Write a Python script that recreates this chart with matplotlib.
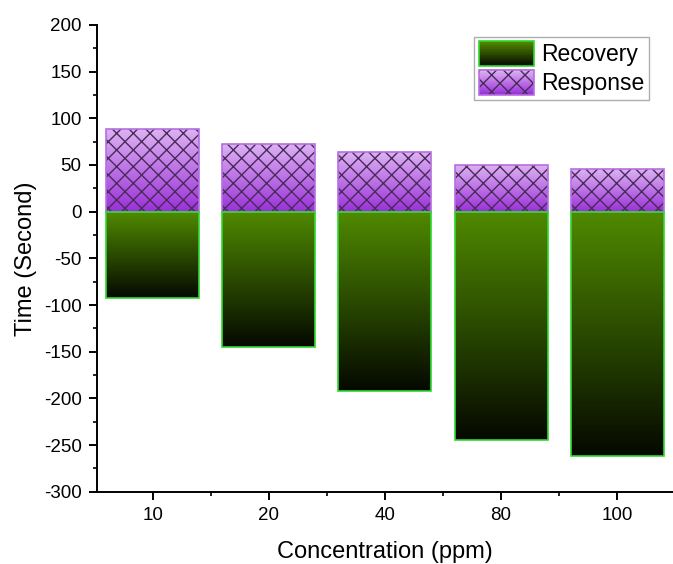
import numpy as np
import matplotlib.pyplot as plt
from matplotlib.colors import LinearSegmentedColormap
from matplotlib.patches import Rectangle, Patch
from matplotlib.legend_handler import HandlerBase
from matplotlib.ticker import MultipleLocator, AutoMinorLocator

plt.rcParams['font.family'] = ['Liberation Sans', 'DejaVu Sans']
plt.rcParams['axes.unicode_minus'] = False
plt.rcParams['hatch.linewidth'] = 1.0

# data
concentrations = ['10', '20', '40', '80', '100']
response = [88, 72, 64, 50, 46]
recovery = [-92, -145, -192, -245, -262]

resp_cmap = LinearSegmentedColormap.from_list('resp', ['#9a30d8', '#dcb2f2'])
rec_cmap = LinearSegmentedColormap.from_list('rec', ['#050800', '#2a4a00', '#508a00'])
resp_edge = '#b56ee2'
rec_edge = '#2fd82f'
hatch_col = '#4a2a5a'

fig = plt.figure(figsize=(6.73, 5.64), dpi=100)
ax = fig.add_axes([0.144, 0.128, 0.856, 0.828])

x = np.arange(len(concentrations))
w = 0.8
grad = np.linspace(0, 1, 256).reshape(-1, 1)

for xi, r, c in zip(x, response, recovery):
    # response bar: gradient + crosshatch + outline
    ax.imshow(grad, extent=[xi - w/2, xi + w/2, 0, r], origin='lower',
              aspect='auto', cmap=resp_cmap, zorder=2)
    ax.bar(xi, r, w, facecolor='none', edgecolor=hatch_col, linewidth=0,
           hatch='xx', zorder=3)
    ax.bar(xi, r, w, facecolor='none', edgecolor=resp_edge, linewidth=1.2, zorder=4)
    # recovery bar: gradient (green at top, black at bottom)
    ax.imshow(grad, extent=[xi - w/2, xi + w/2, c, 0], origin='lower',
              aspect='auto', cmap=rec_cmap, zorder=2)
    ax.bar(xi, c, w, facecolor='none', edgecolor=rec_edge, linewidth=1.2, zorder=4)

ax.set_xlim(-0.48, 4.48)
ax.set_ylim(-300, 200)
ax.set_xticks(x)
ax.set_xticklabels(concentrations)
ax.xaxis.set_minor_locator(MultipleLocator(0.5))
ax.yaxis.set_major_locator(MultipleLocator(50))
ax.yaxis.set_minor_locator(AutoMinorLocator(2))

for s in ['top', 'right']:
    ax.spines[s].set_visible(False)
for s in ['left', 'bottom']:
    ax.spines[s].set_linewidth(1.4)
ax.tick_params(which='major', direction='out', length=6, width=1.4, labelsize=13.5, pad=5)
ax.tick_params(which='minor', direction='out', length=3, width=1.2)
ax.tick_params(axis='x', which='minor', labelbottom=False)

ax.set_xlabel('Concentration (ppm)', fontsize=17, labelpad=12)
ax.set_ylabel('Time (Second)', fontsize=17, labelpad=5)


class GradientHandler(HandlerBase):
    def __init__(self, cmap, edge, hatch=None):
        super().__init__()
        self.cmap, self.edge, self.hatch = cmap, edge, hatch

    def create_artists(self, legend, orig_handle, xdescent, ydescent,
                       width, height, fontsize, trans):
        x0, y0 = -xdescent, -ydescent
        n = 30
        arts = []
        for i in range(n):
            arts.append(Rectangle((x0, y0 + height * i / n), width, height / n + 0.3,
                                  facecolor=self.cmap(i / (n - 1)), edgecolor='none',
                                  transform=trans))
        if self.hatch:
            arts.append(Rectangle((x0, y0), width, height, facecolor='none',
                                  edgecolor=hatch_col, linewidth=0, hatch=self.hatch,
                                  transform=trans))
        arts.append(Rectangle((x0, y0), width, height, facecolor='none',
                              edgecolor=self.edge, linewidth=1.2, transform=trans))
        return arts


h_rec = Patch(label='Recovery')
h_resp = Patch(label='Response')
leg = ax.legend([h_rec, h_resp], ['Recovery', 'Response'],
                handler_map={h_rec: GradientHandler(rec_cmap, rec_edge),
                             h_resp: GradientHandler(resp_cmap, resp_edge, 'xx')},
                loc='upper right', bbox_to_anchor=(0.965, 0.935),
                bbox_transform=fig.transFigure, fontsize=16.5, fancybox=False,
                handlelength=2.4, handleheight=1.3, handletextpad=0.35,
                borderpad=0.2, labelspacing=0.15, borderaxespad=0)
leg.get_frame().set_edgecolor('#999999')
leg.get_frame().set_linewidth(1.0)
leg.set_zorder(5)

fig.savefig('out.png', dpi=100)
